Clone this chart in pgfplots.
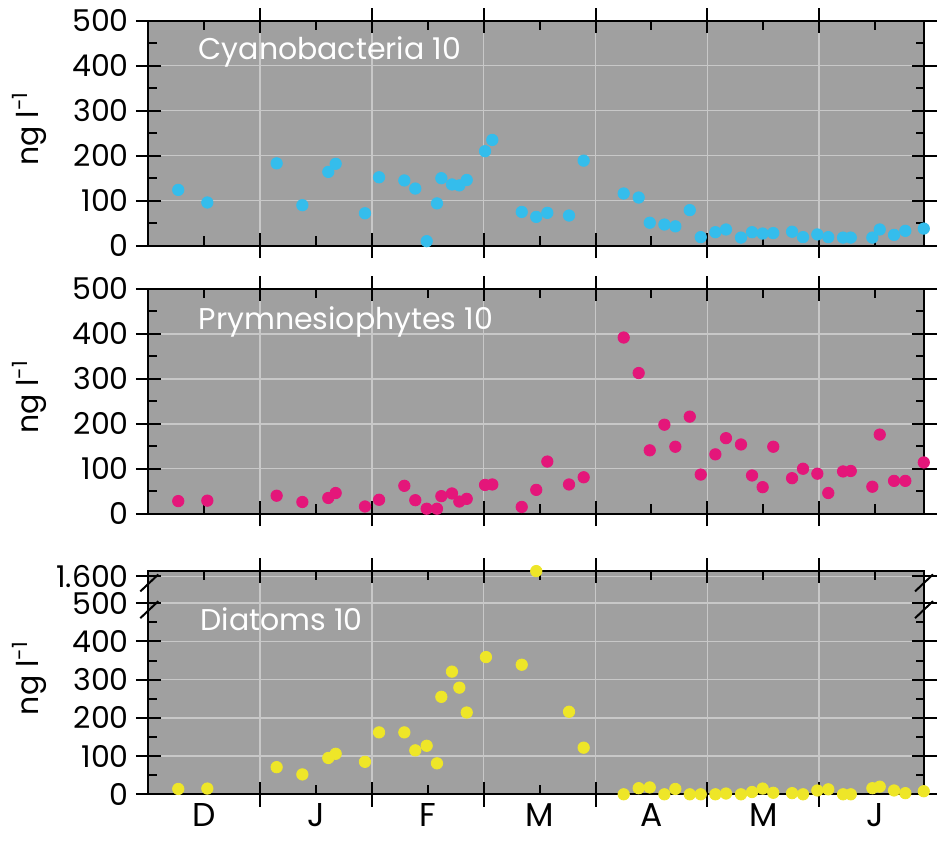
\documentclass[border=0pt]{standalone}
\usepackage{fontspec}
\setmainfont{Poppins}
\usepackage{pgfplots}
\pgfplotsset{compat=1.18}
\usepackage{pgfplotstable}

\definecolor{bgc}{RGB}{160,160,160}
\definecolor{gridc}{RGB}{200,200,200}
\definecolor{cyanc}{RGB}{52,189,236}
\definecolor{magc}{RGB}{228,22,122}
\definecolor{yelc}{RGB}{238,230,40}

% x: months since 1 December (one unit per month)
\pgfplotstableread{
x y
0.268 124
0.528 96
1.148 183
1.378 90
1.610 164
1.676 182
1.938 72
2.064 152
2.290 145
2.388 127
2.490 10
2.582 94
2.621 150
2.716 136
2.782 134
2.848 146
3.012 210
3.077 235
3.340 75
3.470 64
3.569 73
3.763 67
3.894 189
4.252 116
4.386 107
4.485 51
4.616 47
4.714 43
4.843 79
4.941 19
5.072 30
5.167 36
5.301 18
5.400 30
5.495 27
5.590 28
5.758 31
5.856 19
5.984 25
6.082 19
6.214 18
6.283 18
6.476 18
6.542 36
6.670 24
6.771 33
6.936 38
}\cyano

\pgfplotstableread{
x y
0.268 28
0.528 29
1.148 40
1.378 26
1.610 35
1.676 46
1.938 16
2.064 31
2.290 62
2.388 30
2.490 11
2.582 11
2.621 39
2.716 45
2.782 27
2.848 33
3.012 64
3.077 65
3.340 15
3.470 53
3.569 116
3.763 65
3.894 81
4.252 392
4.386 313
4.485 141
4.616 198
4.714 149
4.843 216
4.941 87
5.072 132
5.167 168
5.301 154
5.400 85
5.495 59
5.590 149
5.758 79
5.856 100
5.984 89
6.082 46
6.214 94
6.283 95
6.476 60
6.542 176
6.670 73
6.771 73
6.936 114
}\prym

\pgfplotstableread{
x y
0.268 14
0.528 15
1.148 71
1.378 52
1.610 95
1.676 106
1.938 85
2.064 162
2.290 162
2.388 115
2.490 127
2.582 81
2.621 255
2.716 321
2.782 279
2.848 214
3.020 359
3.340 339
3.763 216
3.894 122
4.252 0
4.386 16
4.485 18
4.616 0
4.714 14
4.843 0
4.941 0
5.072 0
5.167 2
5.301 0
5.400 6
5.495 15
5.590 4
5.758 3
5.856 0
5.984 10
6.082 13
6.214 0
6.283 0
6.476 16
6.542 20
6.670 10
6.771 3
6.936 8
}\diat

\pgfplotsset{
  panel/.style={
    scale only axis, width=387.85pt,
    xmin=0, xmax=6.938,
    axis background/.style={fill=bgc},
    axis line style={line width=1pt},
    every tick/.style={black, line width=1pt},
    tick align=center, major tick length=12.5pt,
    xtick={1,2,3,4,5,6}, xticklabels={},
    extra x ticks={0.5,1.5,2.5,3.5,4.5,5.5,6.5},
    extra x tick labels={},
    extra x tick style={grid=none, tick align=inside, major tick length=4.6pt},
    extra y ticks={50,150,250,350,450},
    extra y tick labels={},
    extra y tick style={grid=none, tick align=inside, major tick length=4.2pt},
    grid=major, major grid style={gridc, line width=0.7pt},
    tick label style={font=\fontsize{15pt}{17pt}\selectfont},
    yticklabel style={inner ysep=0pt},
    every axis y label/.style={at={(rel axis cs:-0.153,0.52)}, rotate=90, anchor=center,
      font=\fontsize{15pt}{17pt}\selectfont},
    ylabel={ng l\textsuperscript{-1}},
    clip=false,
  },
  pts/.style={only marks, mark=*, mark size=2.85pt, color=#1, mark options={draw=none, fill=#1}},
}
\tikzset{ttl/.style={anchor=base west, text=white, font=\fontsize{15pt}{17pt}\selectfont, inner sep=0pt}}

\begin{document}
\begin{tikzpicture}
\useasboundingbox (0,0) rectangle (469pt,-427pt);

\begin{axis}[panel, at={(74.15pt,-10.35pt)}, anchor=north west, height=112.5pt,
  ymin=0, ymax=500, ytick={0,100,200,300,400,500}, yticklabels={0,100,200,300,400,500}]
  \addplot[pts=cyanc] table[x=x,y=y] {\cyano};
  \node[ttl] at ([xshift=25pt,yshift=-19.3pt]rel axis cs:0,1) {Cyanobacteria 10};
\end{axis}

\begin{axis}[panel, at={(74.15pt,-144.5pt)}, anchor=north west, height=112.35pt,
  ymin=0, ymax=500, ytick={0,100,200,300,400,500}, yticklabels={0,100,200,300,400,500}]
  \addplot[pts=magc] table[x=x,y=y] {\prym};
  \node[ttl] at ([xshift=25pt,yshift=-20.5pt]rel axis cs:0,1) {Prymnesiophytes 10};
\end{axis}

\begin{axis}[panel, at={(74.15pt,-285.35pt)}, anchor=north west, height=111.8pt,
  ymin=0, ymax=585, ytick={0,100,200,300,400,500,570}, yticklabels={0,100,200,300,400,500,1.600},
  extra x tick labels={D,J,F,M,A,M,J},
  extra x tick style={grid=none, tick align=inside, major tick length=4.6pt,
    xticklabel style={yshift=-1.25pt, font=\fontsize{16.5pt}{18pt}\selectfont}}]
  \addplot[pts=yelc] table[x=x,y=y] {\diat};
  % value of about 1614 ng/l, drawn above the axis break (1.600 tick sits at 570)
  \addplot[pts=yelc] coordinates {(3.470,584)};
  \node[ttl] at ([xshift=26pt,yshift=-30pt]rel axis cs:0,1) {Diatoms 10};
  \draw[line width=1pt] ([shift={(-4pt,-7.5pt)}]axis cs:0,500) -- ([shift={(5pt,1pt)}]axis cs:0,500);
  \draw[line width=1pt] ([shift={(-4pt,-7.5pt)}]axis cs:0,570) -- ([shift={(5pt,1pt)}]axis cs:0,570);
  \draw[line width=1pt] ([shift={(-4.5pt,-7.5pt)}]axis cs:6.938,500) -- ([shift={(4.5pt,1pt)}]axis cs:6.938,500);
  \draw[line width=1pt] ([shift={(-4.5pt,-7.5pt)}]axis cs:6.938,570) -- ([shift={(4.5pt,1pt)}]axis cs:6.938,570);
\end{axis}
\end{tikzpicture}
\end{document}
